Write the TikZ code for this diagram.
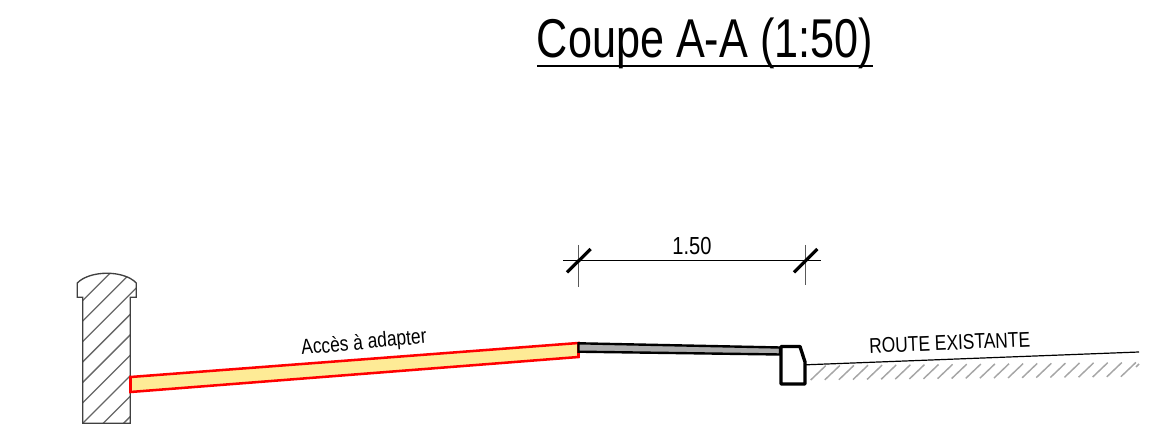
\documentclass[tikz,border=0pt]{standalone}
\usepackage{fontspec}
\setmainfont{Liberation Sans}

\newcommand{\narrowtext}[1]{\scalebox{.815}[1]{#1}}
\newcommand{\postoutline}{(77.3,283) .. controls (90,270) and (124,270) .. (136.3,283) -- (136.3,297.3) -- (130.3,297.3) -- (130.3,423.3) -- (82.7,423.3) -- (82.7,297.3) -- (77.3,297.3) -- cycle}

\begin{document}
\begin{tikzpicture}
	[
	  x=.75pt, y=-.75pt,
	  outline/.style={draw=black!75, line width=1pt},
	  hatch/.style={draw=black!60, line width=1pt},
	  groundhatch/.style={draw=black!35, line width=1.1pt},
	  access/.style={draw=red, line width=1.9pt, fill=yellow!70!orange!40, line join=miter},
	  strip/.style={draw=black, line width=1.8pt, fill=black!33},
	  curb/.style={draw=black, line width=2.5pt, fill=white, line join=round},
	  dimline/.style={draw=black, line width=.6pt},
	  dimext/.style={draw=black!65, line width=.6pt},
	  dimtick/.style={draw=black, line width=2.4pt},
	  label/.style={inner sep=0pt, anchor=base west, font=\fontsize{16}{16}\selectfont},
	]
	\useasboundingbox (0,0) rectangle (1154,434);

	% title
	\node (title) [inner sep=0pt, anchor=base, font=\fontsize{41}{41}\selectfont] at (705,57.5) {\scalebox{.79}[1]{Coupe A-A (1:50)}};
	\draw [black, line width=1.7pt] (537,66) -- (873,66);

	% post
	\begin{scope}
	  \clip \postoutline;
	  \foreach \n [evaluate=\n as \s using 383.3+20.45*\n] in {0,...,8}
		\draw [hatch] ({\s-440},440) -- ({\s-260},260);
	\end{scope}
	\draw [outline] \postoutline;

	% access, strip and curb
	\draw [access] (130.5,377) -- (578.5,343) -- (578.5,357) -- (130.5,392) -- cycle;
	\draw [strip] (578.5,343.3) -- (780,347.5) -- (780,354.5) -- (578.5,351.7) -- cycle;
	\draw [curb] (781,346.5) -- (800,346.5) -- (805,362) -- (805,384) -- (781,384) -- cycle;

	% road
	\coordinate (roadstart) at (806,364.8);
	\coordinate (roadend) at (1139,352);
	\draw [black, line width=.9pt] (roadstart) -- (roadend);
	\foreach \n [evaluate=\n as \hx using 810.7+14.1*\n, evaluate=\n as \hy using 380-.15*\n] in {0,...,22}
	  \draw [groundhatch] (\hx,\hy) -- ({\hx+15},{\hy-14.3});
	\draw [groundhatch] (1136,367) -- (1139,364);

	% dimension
	\coordinate (dimleft) at (563.3,260.7);
	\coordinate (dimright) at (820.7,260.7);
	\draw [dimline] (dimleft) -- (dimright);
	\draw [dimext] (578.7,245) -- (578.7,286.7);
	\draw [dimext] (805.7,245) -- (805.7,285);
	\draw [dimtick] (567,272.3) -- (590.7,249);
	\draw [dimtick] (794,272.3) -- (817.3,249);
	\node (width) [inner sep=0pt, anchor=base, font=\fontsize{18.5}{19}\selectfont] at (692,255) {\narrowtext{1.50}};

	% labels
	\node (accesslabel) [label, rotate=5.4] at (301.7,355) {\narrowtext{Accès à adapter}};
	\node (roadlabel) [label, rotate=2.4] at (869.3,353.3) {\narrowtext{ROUTE EXISTANTE}};
  \end{tikzpicture}
\end{document}
